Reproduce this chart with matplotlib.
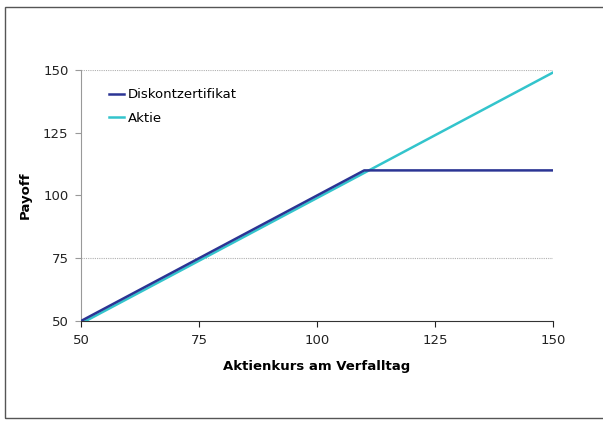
import matplotlib
matplotlib.use("Agg")
import matplotlib.pyplot as plt
from matplotlib.patches import Rectangle

# payoff profile at expiry
kurs = [50, 110, 150]
diskont = [50, 110, 110]
aktie_kurs = [50, 150]
aktie = [49, 149]

x_ticks = [50, 75, 100, 125, 150]
y_ticks = [50, 75, 100, 125, 150]
grid_at = [75, 150]

plt.rcParams["font.family"] = "DejaVu Sans"

fig = plt.figure(figsize=(6.03, 4.21), dpi=100)
ax = fig.add_axes([81 / 603, 1 - 321 / 421, (553 - 81) / 603, (321 - 70) / 421])

# outer chart border (right edge falls off the picture)
fig.patches.append(Rectangle((5 / 603, 3 / 421), 1.0, 411 / 421, transform=fig.transFigure,
                             fill=False, edgecolor="#555555", linewidth=1.0))

for g in grid_at:
    ax.axhline(g, color="#b0b0b0", linestyle=(0, (1, 1)), linewidth=0.8, zorder=0)

ax.plot(kurs, diskont, color="#2B3494", linewidth=1.8, label="Diskontzertifikat", zorder=3)
ax.plot(aktie_kurs, aktie, color="#33C4CC", linewidth=1.8, label="Aktie", zorder=2)

ax.set_xlim(50, 150)
ax.set_ylim(50, 150)
ax.set_xticks(x_ticks)
ax.set_yticks(y_ticks)
ax.tick_params(direction="out", length=4, labelsize=9.5, colors="#222222", pad=5)
ax.tick_params(axis="y", color="#999999")

ax.spines["top"].set_visible(False)
ax.spines["right"].set_visible(False)
ax.spines["left"].set_color("#999999")
ax.spines["bottom"].set_color("#333333")

ax.set_xlabel("Aktienkurs am Verfalltag", fontsize=9.5, fontweight="bold", labelpad=10)
ax.set_ylabel("Payoff", fontsize=9.5, fontweight="bold", labelpad=8)

ax.legend(loc="upper left", bbox_to_anchor=(0.035, 0.975), frameon=False, fontsize=9.5,
          handlelength=1.1, handletextpad=0.3, labelspacing=0.8)

fig.savefig("out.png", dpi=100)
